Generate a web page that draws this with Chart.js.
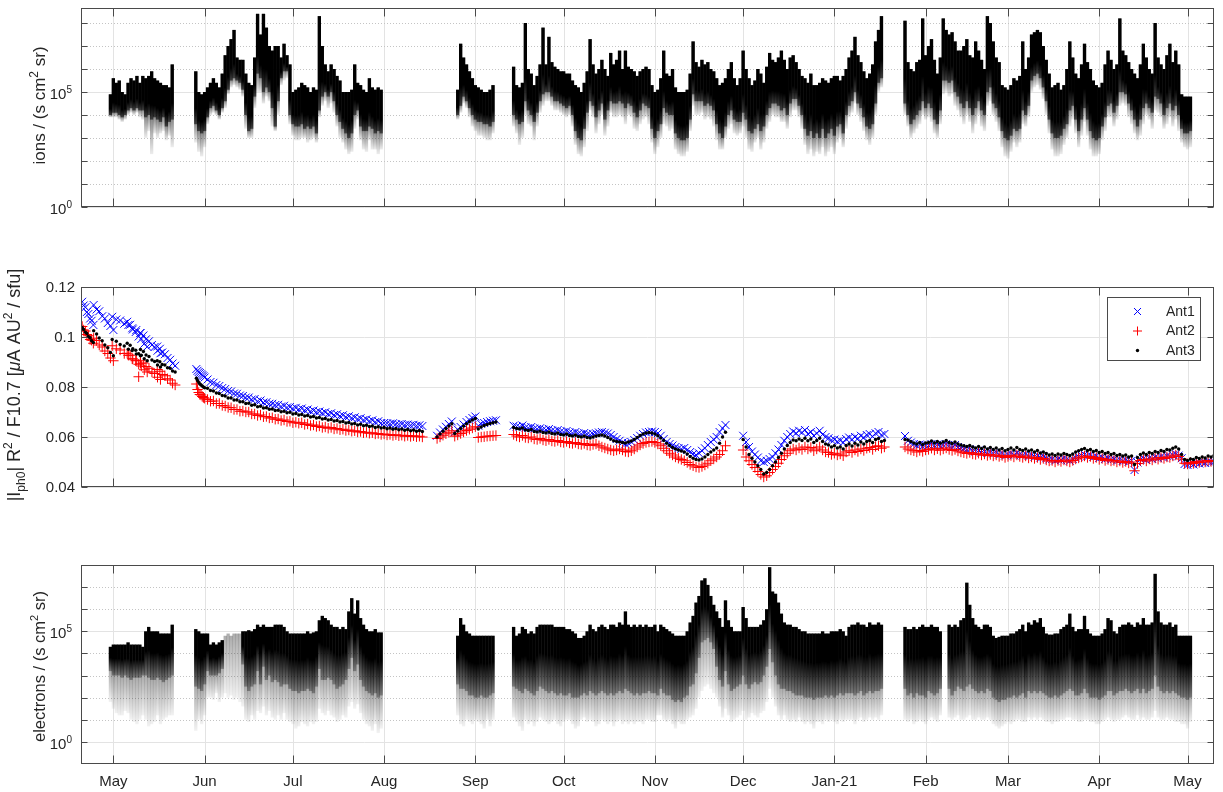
<!DOCTYPE html>
<html><head><meta charset="utf-8">
<script src="https://cdn.jsdelivr.net/npm/chart.js@4.4.1/dist/chart.umd.min.js"></script>
<style>
html,body{margin:0;padding:0;background:#fff;width:1223px;height:792px;overflow:hidden}
canvas{position:absolute;left:0}
</style></head>
<body>
<canvas id="c1" width="1223" height="215" style="top:0px"></canvas>
<canvas id="c2" width="1223" height="230" style="top:270px"></canvas>
<canvas id="c3" width="1223" height="247" style="top:545px"></canvas>
<script>
// ---------- x axis: days since 1 May 2020 ----------
const monthTickDays = [0,31,61,92,123,153,184,214,245,276,304,335,365];
const monthTickLabels = ['May','Jun','Jul','Aug','Sep','Oct','Nov','Dec','Jan-21','Feb','Mar','Apr','May'];

// ---------- ions: daily envelopes, log10 values, segments start at given day ----------
const ionSegStart = [-1, 28, 117, 136, 269];
const ionTopLog = [
 [4.9,5.6,5.4,5.5,5.0,4.9,5.4,5.6,5.5,5.7,5.4,5.7,5.6,5.7,5.9,5.6,5.5,5.4,5.3,5.3,5.2,6.2],
 [5.9,5.0,4.9,5.0,5.2,5.4,5.6,5.4,5.2,5.8, 6.6,7.0,7.3,7.7,6.5,6.4,6.4,5.8,5.4,5.3, 6.5,8.4,7.5,8.4,7.8,7.0,6.8,7.0,7.0,6.5, 7.1,6.6,6.2,5.0,5.1,5.2,5.4,5.3,5.2,5.0, 5.2,5.1,8.3,7.0,6.2,5.9,6.2,6.0,5.7,5.5, 5.0,5.0,5.0,5.1,6.2,5.4,5.3,5.1,5.0,5.6, 5.2,5.1,5.2,5.1],
 [5.1,7.1,6.5,6.2,5.9,5.6,5.3,5.2,5.1,5.0,5.0,5.1,5.3],
 [6.1,5.3,5.2,5.4,8.0,6.0,5.8,5.3,5.7,6.2, 7.8,6.2,7.4,6.3,6.1,6.0,5.9,5.9,5.8,5.8, 5.5,5.3,5.2,5.0,5.4,5.9,7.3,6.2,5.8,6.0, 6.4,6.0,5.7,6.7,6.2,6.4,6.8,6.0,6.8,6.1, 6.0,5.9,5.7,5.9,6.0,6.1,6.0,5.3,5.0,5.1, 5.6,6.8,5.8,5.7,6.0,5.2,5.0,5.0,5.0,5.1, 5.8,7.2,6.3,6.1,6.4,6.2,6.3,6.0,5.9,5.6, 5.3,5.4,5.6,6.0,6.3,5.6,5.3,5.6,6.8,6.0, 5.6,5.3,5.5,6.0,5.8,5.4,6.1,6.7,6.4,6.3, 6.5,6.8,6.4,6.0,6.5,6.6,6.3,6.0,5.7,5.6, 5.4,5.8,5.3,5.3,5.4,5.6,5.5,5.4,5.6,5.7, 5.7,5.5,5.7,6.0,6.5,6.8,7.4,6.6,6.3,5.9, 5.6,5.8,6.2,7.2,7.7,8.3],
 [8.1,6.3,6.0,5.9,6.3,6.4,8.2,6.6,7.0,7.3, 6.4,5.8,6.5,8.2,7.7,7.5,7.6,7.2,6.8,6.8, 7.0,7.3,6.6,6.5,7.2,6.8,6.4,6.0,8.3,8.0, 7.2,6.5,6.3,5.3,5.2,5.1,5.3,5.6,5.5,5.7, 7.2,6.0,6.5,7.5,7.6,7.7,7.6,7.0,6.4,5.8, 5.2,5.3,5.4,5.1,5.3,6.0,7.2,6.5,5.8,5.6, 6.2,7.1,6.3,6.0,5.5,5.3,5.2,5.4,6.2,6.8, 6.4,6.0,6.2,8.2,6.8,6.6,6.3,6.0,5.8,5.6, 6.2,7.1,6.5,6.0,5.8,8.0,6.5,6.2,6.0,6.6, 7.1,6.3,6.8,6.2,4.9,4.8,4.8,4.8]
];
const ionCoreLog = [
 [4.0,4.1,4.1,4.0,3.9,4.0,4.2,4.3,4.2,4.3,4.2,4.2,3.9,4.0,3.8,3.9,3.8,3.7,3.9,3.5,3.7,3.8],
 [3.6,3.3,3.2,3.3,3.9,4.3,4.4,4.2,4.0,4.3, 4.6,5.1,5.5,5.6,5.5,5.4,5.1,4.0,3.3,3.4, 4.8,5.8,5.6,5.0,5.2,5.0,4.3,3.5,4.6,5.6, 5.9,5.9,4.0,3.6,3.5,3.5,3.6,3.4,3.5,3.4, 3.5,3.2,4.2,4.8,5.0,4.8,5.0,4.6,4.0,3.7, 3.4,3.2,3.0,3.2,4.0,4.2,3.5,3.3,3.3,3.5, 3.4,3.2,3.3,3.2],
 [4.0,4.4,4.8,4.6,4.3,4.0,3.8,3.7,3.7,3.6,3.6,3.5,3.7],
 [4.0,3.8,3.6,3.7,4.6,4.2,4.0,3.7,4.1,4.6, 4.9,5.0,5.0,4.8,4.6,4.6,4.5,4.4,4.3,4.4, 4.0,3.3,3.0,2.9,3.4,4.1,4.6,4.4,3.9,4.2, 4.5,3.8,4.2,4.6,4.5,4.5,4.6,4.5,4.3,4.5, 4.4,4.1,3.9,4.2,4.5,4.4,4.3,3.4,3.0,3.3, 3.6,4.3,4.1,4.0,4.0,3.2,3.0,2.9,2.9,3.0, 3.8,4.9,4.6,4.6,4.6,4.4,4.5,4.4,4.2,3.6, 3.2,3.0,3.5,4.0,4.2,3.8,3.7,3.7,4.1,3.8, 3.3,3.2,3.4,3.6,3.3,3.5,4.0,4.3,4.5,4.5, 4.4,4.2,4.3,4.0,4.5,4.7,4.7,4.4,4.0,3.4, 3.1,3.3,3.0,3.2,3.0,3.4,3.0,3.2,3.4,3.1, 3.5,3.6,3.2,4.0,4.4,4.6,5.0,4.5,4.3,3.9, 3.5,3.4,3.6,4.5,5.4,5.6],
 [4.5,4.0,3.6,3.8,4.0,4.2,4.6,4.3,4.5,4.3, 3.8,3.6,4.2,5.5,5.5,5.4,5.5,5.0,4.8,4.5, 4.3,4.6,4.3,4.0,4.3,4.6,4.2,4.0,5.0,5.2, 4.5,4.3,3.9,3.3,3.0,2.9,3.1,3.4,3.3,3.4, 4.2,4.0,4.4,5.5,5.7,5.8,5.6,5.2,4.6,3.8, 3.2,3.0,3.0,3.1,3.4,3.6,4.2,4.4,3.8,3.3, 3.8,4.3,3.8,3.3,3.0,2.9,3.0,3.5,3.9,4.4, 4.5,4.1,4.4,5.0,5.0,4.9,4.5,4.2,3.8,3.5, 3.8,4.3,4.5,4.3,4.1,4.8,4.7,4.5,4.0,4.3, 4.5,4.2,4.4,4.0,3.4,3.2,3.2,3.3]
];
const ionLowLog = [
 [3.9,3.9,3.9,3.8,3.7,3.8,4.0,4.1,4.0,4.1,3.9,3.8,3.0,3.3,2.3,3.2,3.0,3.2,3.3,2.9,3.1,2.6],
 [2.8,2.4,2.2,2.6,3.6,4.0,4.1,4.0,3.8,4.1, 4.3,4.9,5.2,5.3,5.2,5.1,4.8,3.4,3.0,3.0, 4.3,5.0,5.0,4.5,4.8,4.6,3.5,3.3,4.0,5.3, 5.5,5.6,3.6,3.1,2.9,2.9,3.0,3.0,2.8,2.9, 3.0,2.8,3.9,4.4,4.6,4.3,4.5,4.1,3.5,3.0, 2.8,2.5,2.3,2.4,3.4,3.8,2.9,2.5,2.4,2.9, 2.5,2.5,2.3,2.5],
 [3.8,4.1,4.5,4.3,3.9,3.5,3.3,3.1,3.1,3.0,2.9,2.9,3.2],
 [3.5,3.2,2.7,3.0,4.0,3.6,3.5,2.9,3.5,4.1, 4.4,4.6,4.6,4.4,4.2,4.2,4.1,4.0,3.9,4.0, 3.5,2.7,2.3,2.2,2.6,3.3,4.2,3.9,3.2,3.6, 4.0,3.1,3.5,4.1,3.9,3.9,4.0,3.9,3.6,4.0, 3.9,3.4,3.3,3.6,3.8,3.9,3.6,2.8,2.3,2.6, 3.0,3.6,3.5,3.3,3.4,2.5,2.3,2.2,2.2,2.4, 3.3,4.4,4.0,4.0,4.1,3.8,3.9,3.8,3.5,2.9, 2.5,2.5,3.0,3.4,3.6,3.2,3.1,3.2,3.5,3.0, 2.5,2.4,2.8,3.0,2.5,2.8,3.4,3.7,4.0,3.9, 3.9,3.7,3.7,3.4,3.9,4.2,4.2,3.9,3.4,2.7, 2.3,2.5,2.2,2.4,2.3,2.6,2.2,2.4,2.6,2.3, 2.8,3.0,2.6,3.4,3.9,4.1,4.5,4.0,3.7,3.3, 2.9,2.7,3.0,4.0,5.0,5.2],
 [4.0,3.5,3.0,3.2,3.4,3.6,4.0,3.8,3.9,3.7, 3.2,3.0,3.6,4.9,5.0,4.8,4.9,4.4,4.2,3.9, 3.6,4.0,3.7,3.2,3.6,4.0,3.5,3.3,4.4,4.6, 4.0,3.7,3.3,2.6,2.2,2.1,2.4,2.8,2.6,2.8, 3.6,3.5,3.9,5.0,5.2,5.3,5.1,4.7,4.0,3.2, 2.5,2.2,2.2,2.3,2.7,3.0,3.5,3.8,3.2,2.6, 3.1,3.7,3.1,2.5,2.2,2.2,2.3,2.9,3.3,3.9, 3.9,3.5,3.8,4.4,4.5,4.4,3.9,3.6,3.2,2.9, 3.1,3.6,4.0,3.8,3.4,4.2,4.1,3.9,3.4,3.6, 3.9,3.5,3.8,3.3,2.8,2.6,2.5,2.6]
];

// ---------- electrons: daily envelopes, log10 values ----------
const eleSegStart = [-1, 28, 117, 136, 269, 284];
const eleTopLog = [
 [4.3,4.4,4.4,4.4,4.4,4.4,4.5,4.4,4.4,4.4, 4.4,4.3,5.0,5.2,5.0,5.0,5.0,4.9,4.9,4.9, 4.9,5.3],
 [5.1,5.0,4.9,4.9,4.9,4.4,4.5,4.4,4.5,4.6, 4.8,4.9,4.8,4.9,4.9,4.9,5.0,5.0,5.05,5.0, 5.1,5.3,5.2,5.3,5.2,5.2,5.2,5.3,5.3,5.3, 5.2,5.0,4.9,4.9,4.9,4.9,4.9,4.9,5.0,4.9, 4.95,5.0,5.5,5.7,5.6,5.5,5.3,5.2,5.2,5.1, 5.2,5.1,5.9,6.5,5.8,6.4,5.6,5.3,5.1,5.0, 5.0,5.1,4.95,4.95],
 [4.8,5.6,5.3,5.0,4.9,4.8,4.8,4.8,4.8,4.8,4.8,4.8,4.8],
 [5.2,4.8,4.9,5.2,5.1,4.9,5.0,4.9,5.2,5.3, 5.3,5.3,5.3,5.3,5.2,5.2,5.2,5.2,5.1,5.1, 5.0,4.9,4.7,4.7,4.8,5.0,5.3,5.1,5.0,5.2, 5.3,5.2,5.1,5.3,5.3,5.2,5.4,5.3,5.9,5.3, 5.2,5.3,5.2,5.3,5.2,5.3,5.2,5.2,5.3,5.0, 5.3,5.2,5.1,5.0,4.9,4.8,4.8,4.8,4.8,5.0, 5.4,5.7,6.3,6.6,7.3,7.4,7.1,6.6,6.2,5.9, 5.6,5.2,6.4,5.5,5.2,5.0,5.0,5.0,6.1,5.6, 5.2,5.2,5.2,5.2,5.3,5.5,6.0,7.9,6.8,6.7, 6.3,5.8,5.4,5.3,5.3,5.2,5.2,5.1,5.0,5.0, 4.9,4.9,4.9,4.9,4.9,5.0,4.9,4.9,5.0,5.0, 5.0,5.1,5.0,4.8,5.2,5.3,5.3,5.4,5.3,5.3, 5.2,5.4,5.3,5.3,5.4,5.3],
 [5.2,5.1,5.1,5.2,5.1,5.2,5.3,5.2,5.2,5.3,5.2,5.2,5.0],
 [5.3,5.2,5.3,5.2,5.5,5.6,7.2,6.2,5.6,5.3, 5.2,5.1,5.3,5.3,5.2,4.8,4.7,4.75,4.8,4.8, 4.8,4.9,4.9,5.0,5.1,5.3,5.0,5.4,5.3,5.5, 5.4,5.6,5.2,4.9,4.85,4.85,4.9,4.9,5.1,5.2, 5.3,5.8,5.2,5.0,5.1,5.1,5.7,5.1,4.9,4.8, 4.8,4.8,4.9,5.1,5.6,5.5,5.0,4.9,5.2,5.3, 5.3,5.4,5.3,5.2,5.4,5.3,5.6,5.3,5.3,5.4, 7.6,5.9,5.4,5.3,5.3,5.4,5.2,5.3,4.8,4.8, 4.8,4.8,4.8]
];
const eleCoreLog = [
 [3.2,3.0,3.0,3.0,2.9,3.0,2.9,2.8,2.9,2.9, 2.9,3.0,3.0,2.9,2.8,2.8,2.9,2.8,2.7,2.8, 2.9,3.0],
 [2.5,2.4,2.3,2.6,3.2,3.0,3.0,3.0,3.1,3.3, null,null,null,null,null,null,3.5,2.5,2.3,2.5, 2.6,3.2,2.6,3.4,2.8,3.0,2.7,2.8,2.7,2.5, 2.6,2.6,2.4,2.3,2.3,2.2,2.3,2.3,2.4,2.3, 2.2,2.5,3.3,2.8,2.8,2.9,2.8,2.6,2.4,2.5, 2.6,2.8,3.3,3.8,3.2,3.5,2.8,2.5,2.3,2.2, 2.1,2.2,2.0,2.1],
 [2.6,2.4,2.4,2.3,2.1,2.1,2.0,2.0,2.1,2.0,2.0,2.1,2.2],
 [2.5,2.4,2.3,2.2,2.4,2.3,2.2,2.1,2.3,2.5, 2.4,2.3,2.2,2.3,2.2,2.1,2.2,2.1,2.1,2.2, 2.0,2.0,2.0,2.1,2.2,2.1,2.3,2.2,2.1,2.2, 2.3,2.2,2.1,2.2,2.1,2.2,2.3,2.2,2.4,2.3, 2.2,2.1,2.2,2.1,2.2,2.2,2.3,2.2,2.2,2.1, 2.4,2.2,2.1,2.1,1.9,1.8,1.9,1.8,2.0,2.1, 2.5,2.6,3.1,3.8,4.5,4.6,4.7,4.5,4.2,3.4, 2.8,2.5,3.2,2.6,2.3,2.4,2.5,2.6,3.0,2.6, 2.4,2.6,2.7,2.6,2.7,3.0,3.4,4.2,3.6,3.0, 2.6,2.4,2.4,2.3,2.3,2.2,2.1,2.1,2.1,2.0, 2.0,2.0,1.9,2.0,2.0,2.0,2.1,2.0,2.1,2.0, 2.1,2.2,2.1,2.2,2.2,2.2,2.1,2.2,2.3,2.1, 2.2,2.3,2.2,2.3,2.3,2.4],
 [2.4,2.1,2.2,2.0,2.2,2.1,2.1,2.0,2.3,2.2,2.1,2.2,2.4],
 [2.4,2.1,2.3,2.5,2.4,2.3,2.5,2.6,2.4,2.3, 2.2,2.3,2.2,2.4,2.3,2.0,1.9,1.8,1.9,1.9, 2.0,2.0,2.1,2.0,2.1,2.2,2.0,2.3,2.2,2.3, 2.2,2.3,2.2,2.1,2.0,2.0,2.1,2.0,2.1,2.2, 2.3,2.4,2.3,2.1,2.1,2.2,2.4,2.2,2.0,2.0, 2.0,1.9,2.0,2.1,2.3,2.3,2.1,2.2,2.3,2.3, 2.4,2.3,2.2,2.3,2.4,2.2,2.4,2.2,2.3,2.4, 3.0,2.5,2.3,2.2,2.3,2.2,2.3,2.2,2.1,2.0, 2.0,1.9,2.0]
];
const eleLowLog = [
 [1.8,1.5,1.3,1.2,1.2,1.4,1.3,1.0,0.9,0.8, 1.0,1.2,1.0,0.7,0.8,0.9,1.2,0.8,1.0,1.1, 1.2,1.2],
 [0.5,1.0,0.8,1.2,2.0,2.0,1.9,2.2,1.8,2.0, 2.2,2.0,2.1,1.9,2.0,1.8,1.6,1.0,0.9,1.2, 1.0,1.4,1.3,1.6,1.2,1.4,1.1,1.0,1.2,1.0, 1.3,1.0,0.9,0.8,0.6,0.7,0.9,0.8,0.7,0.9, 0.8,0.9,1.5,1.3,1.2,1.4,1.2,1.1,0.9,1.0, 1.2,1.1,1.6,1.8,1.5,1.7,1.3,1.0,0.8,0.7, 0.5,0.8,0.4,0.6],
 [1.2,0.8,0.7,1.0,0.9,0.8,1.0,0.9,0.8,0.6,1.0,0.7,1.0],
 [1.1,0.9,0.7,0.5,1.0,0.8,0.9,0.7,0.9,1.1, 1.0,0.9,0.8,0.9,1.0,0.8,0.7,0.9,1.0,1.0, 0.8,0.6,0.7,1.0,1.1,0.9,1.0,0.9,0.7,0.8, 1.0,0.9,0.8,0.9,0.7,0.9,1.0,0.8,0.9,0.8, 0.9,0.8,0.9,0.9,0.8,1.0,1.0,0.9,0.9,1.2, 1.2,1.0,0.9,1.0,0.8,0.6,0.9,0.8,0.8,1.0, 1.1,1.2,1.5,2.0,2.3,2.5,2.6,2.4,2.2,2.0, 1.6,1.1,1.5,1.2,0.9,1.0,1.1,1.2,1.4,1.0, 1.1,1.3,1.2,1.1,1.3,1.4,1.8,2.4,2.0,1.6, 1.2,1.0,1.2,1.0,0.9,1.0,0.9,1.1,0.9,0.8, 0.9,0.8,0.6,0.9,0.9,0.8,1.0,0.9,1.0,0.9, 0.8,1.0,0.9,1.0,1.0,1.0,0.8,1.0,1.1,0.9, 1.0,1.1,1.0,1.1,1.0,1.2],
 [1.0,0.9,1.0,0.8,0.9,1.0,0.9,0.8,1.0,1.1,1.0,0.9,1.2],
 [1.1,1.0,1.1,1.2,1.0,1.0,1.1,1.2,1.0,1.0, 1.1,1.0,1.0,1.1,1.0,0.8,0.7,0.6,0.7,0.8, 0.9,0.8,0.9,1.0,1.0,0.9,0.9,1.1,1.0,1.1, 1.0,1.1,1.0,0.9,0.9,0.8,0.9,0.9,1.0,1.0, 1.1,1.1,1.0,1.0,0.9,0.9,1.0,1.0,0.9,0.9, 0.8,0.8,0.9,1.0,1.1,1.0,0.9,1.0,1.0,1.1, 1.2,1.1,1.0,1.0,1.2,1.0,1.1,1.0,1.0,1.1, 1.4,1.1,1.0,1.0,1.1,1.0,1.0,0.9,0.9,0.8, 0.8,0.6,0.9]
];

// ---------- |Iph0| R^2 / F10.7 : irregular early samples ----------
const phEarlyDays = [-10.6,-10.1,-9.5,-9.0,-8.5,-7.9,-7.4,-6.8, -6.7,-5.7,-4.8,-3.8,-2.9,-1.9,-1.0,0.0, -0.4,1.0,2.3,3.7,5.1,6.4,7.8,9.2, 4.7,5.7,6.6,7.6,8.6,9.5,10.5,11.5, 9.2,10.2,11.1,12.1,13.1,14.0,15.0,16.0, 14.9,15.8,16.6,17.5,18.4,19.3,20.1,21.0, 8.6, 28.2,28.6,29.0,29.4,29.8,30.2,30.6,31.0];
const ant1Early = [.1141,.1126,.1119,.1100,.1092,.1074,.1065,.1048, .1128,.1110,.1103,.1083,.1074,.1056,.1044,.1028, .1081,.1070,.1066,.1053,.1048,.1035,.1028,.1016, .1061,.1049,.1030,.1020,.1002,.0992,.0973,.0961, .1016,.1006,.0991,.0983,.0968,.0960,.0945,.0935, .0962,.0953,.0938,.0931,.0916,.0909,.0894,.0885, null, .0872,.0865,.0860,.0856,.0851,.0847,.0843,.0838];
const ant2Early = [.1042,.1028,.1024,.1010,.1005,.0990,.0987,.0975, .0995,.0986,.0968,.0960,.0944,.0934,.0916,.0905, .0965,.0953,.0948,.0934,.0927,.0913,.0907,.0895, .0935,.0927,.0912,.0905,.0891,.0884,.0869,.0860, .0905,.0896,.0882,.0875,.0860,.0854,.0839,.0830, .0870,.0863,.0850,.0845,.0833,.0828,.0815,.0808, .0841, .0812,.0790,.0778,.0770,.0768,.0762,.0758,.0755];
const ant3Early = [.1038,.1030,.1019,.1014,.1002,.0997,.0985,.0978, .1025,.1012,.0996,.0985,.0968,.0957,.0938,.0925, .0990,.0983,.0970,.0964,.0951,.0946,.0932,.0925, .0975,.0967,.0953,.0947,.0933,.0927,.0913,.0905, .0950,.0942,.0928,.0922,.0908,.0902,.0888,.0880, .0905,.0901,.0890,.0888,.0877,.0875,.0864,.0860, null, .0835,.0826,.0818,.0812,.0808,.0804,.0800,.0797];

// ---------- |Iph0| R^2 / F10.7 : daily samples, segments start at given day ----------
const phSegStart = [32, 110, 136, 214, 269];
const ant1Daily = [
 [.0830,.0820,.0817,.0808,.0804,.0796,.0792,.0784,.0782,.0774, .0773,.0766,.0764,.0758,.0758,.0750,.0752,.0743,.0746,.0738, .0739,.0733,.0733,.0728,.0729,.0722,.0725,.0718,.0720,.0714, .0717,.0711,.0714,.0707,.0710,.0703,.0706,.0700,.0702,.0696, .0699,.0692,.0695,.0688,.0691,.0684,.0687,.0680,.0683,.0676, .0679,.0672,.0675,.0668,.0671,.0664,.0667,.0660,.0663,.0656, .0656,.0655,.0653,.0655,.0651,.0650,.0652,.0648,.0650,.0647, .0649,.0645,.0647,.0644],
 [.0605,.0618,.0630,.0641,.0652,.0662, .0620,.0630,.0640,.0650,.0660,.0668,.0676,.0682, .0645,.0652,.0656,.0660,.0663,.0665,.0667],
 [.0645,.0642,.0640,.0646,.0638,.0636,.0640,.0634,.0632,.0635, .0630,.0628,.0632,.0626,.0624,.0628,.0622,.0620,.0624,.0618, .0616,.0620,.0614,.0612,.0616,.0611,.0609,.0612,.0615,.0618, .0620,.0617,.0614,.0608,.0600,.0592,.0585,.0578,.0572,.0575, .0580,.0588,.0596,.0605,.0612,.0618,.0620,.0622,.0620,.0615, .0605,.0592,.0580,.0572,.0566,.0560,.0555,.0552,.0556,.0548, .0540,.0532,.0528,.0535,.0545,.0555,.0568,.0580,.0590,.0600, .0620,.0635,.0648],
 [.0605,.0580,.0560,.0542,.0530,.0518,.0505,.0500,.0505,.0512, .0520,.0535,.0550,.0568,.0585,.0600,.0612,.0622,.0615,.0625, .0618,.0628,.0612,.0620,.0605,.0615,.0625,.0610,.0600,.0595, .0588,.0590,.0582,.0586,.0578,.0592,.0598,.0590,.0600,.0594, .0605,.0598,.0608,.0612,.0602,.0615,.0620,.0608,.0612],
 [.0604,.0585,.0578,.0572,.0566,.0570,.0562,.0568,.0566,.0572, .0565,.0570,.0563,.0568,.0572,.0566,.0562,.0568,.0560,.0556, .0552,.0548,.0552,.0545,.0542,.0546,.0538,.0542,.0536,.0540, .0534,.0538,.0530,.0534,.0526,.0530,.0534,.0528,.0536,.0530, .0526,.0532,.0524,.0528,.0522,.0526,.0518,.0522,.0515,.0510, .0512,.0506,.0512,.0508,.0514,.0510,.0505,.0512,.0518,.0522, .0526,.0530,.0524,.0528,.0520,.0524,.0516,.0520,.0512,.0516, .0510,.0512,.0506,.0510,.0504,.0508,.0502,.0505,.0468,.0498, .0510,.0514,.0508,.0516,.0512,.0520,.0515,.0522,.0518,.0525, .0522,.0528,.0532,.0526,.0515,.0492,.0488,.0495,.0490,.0498, .0494,.0500,.0496,.0503,.0498,.0502]
];
const ant2Daily = [
 [.0750,.0743,.0744,.0734,.0734,.0726,.0724,.0718,.0717,.0710, .0710,.0703,.0704,.0700,.0700,.0692,.0692,.0686,.0688,.0681, .0682,.0676,.0677,.0671,.0672,.0666,.0668,.0662,.0663,.0657, .0659,.0655,.0657,.0650,.0652,.0646,.0648,.0642,.0644,.0638, .0640,.0635,.0638,.0632,.0634,.0629,.0631,.0626,.0628,.0623, .0625,.0620,.0622,.0617,.0619,.0615,.0617,.0612,.0614,.0610, .0612,.0608,.0610,.0606,.0609,.0605,.0607,.0603,.0606,.0602, .0605,.0601,.0603,.0600],
 [.0594,.0600,.0607,.0613,.0619,.0625, .0603,.0608,.0614,.0620,.0626,.0631,.0636,.0641, .0598,.0600,.0601,.0603,.0604,.0605,.0606],
 [.0610,.0604,.0600,.0606,.0598,.0596,.0600,.0592,.0590,.0594, .0588,.0585,.0590,.0584,.0582,.0586,.0580,.0578,.0582,.0576, .0574,.0578,.0572,.0570,.0574,.0568,.0566,.0570,.0572,.0565, .0560,.0556,.0552,.0548,.0545,.0548,.0552,.0548,.0542,.0540, .0545,.0552,.0560,.0568,.0574,.0578,.0580,.0582,.0578,.0572, .0565,.0555,.0545,.0535,.0528,.0520,.0515,.0510,.0505,.0498, .0490,.0485,.0480,.0478,.0482,.0488,.0495,.0505,.0512,.0520, .0530,.0545,.0565],
 [.0548,.0520,.0505,.0490,.0478,.0462,.0450,.0440,.0445,.0458, .0470,.0482,.0495,.0510,.0525,.0535,.0545,.0552,.0548,.0556, .0550,.0560,.0552,.0558,.0545,.0552,.0560,.0548,.0540,.0538, .0530,.0535,.0528,.0532,.0525,.0540,.0545,.0538,.0548,.0542, .0552,.0546,.0555,.0558,.0550,.0562,.0565,.0555,.0560],
 [.0560,.0552,.0548,.0545,.0540,.0546,.0542,.0548,.0550,.0555, .0548,.0553,.0547,.0552,.0556,.0550,.0546,.0550,.0544,.0540, .0537,.0534,.0538,.0532,.0530,.0535,.0528,.0532,.0526,.0530, .0524,.0528,.0522,.0526,.0518,.0522,.0526,.0520,.0528,.0522, .0518,.0524,.0516,.0520,.0514,.0518,.0510,.0514,.0508,.0504, .0506,.0500,.0506,.0502,.0508,.0504,.0500,.0506,.0512,.0516, .0520,.0524,.0518,.0522,.0514,.0518,.0510,.0514,.0506,.0510, .0504,.0506,.0500,.0504,.0498,.0502,.0496,.0500,.0465,.0494, .0506,.0510,.0504,.0512,.0508,.0516,.0511,.0518,.0514,.0520, .0518,.0524,.0528,.0522,.0512,.0495,.0492,.0498,.0494,.0502, .0498,.0504,.0500,.0506,.0502,.0506]
];
const ant3Daily = [
 [.0795,.0786,.0784,.0776,.0774,.0766,.0764,.0756,.0756,.0748, .0748,.0741,.0741,.0734,.0735,.0727,.0729,.0721,.0723,.0716, .0717,.0711,.0712,.0706,.0707,.0701,.0703,.0697,.0699,.0692, .0694,.0688,.0690,.0684,.0686,.0680,.0682,.0676,.0678,.0672, .0674,.0668,.0670,.0664,.0666,.0660,.0662,.0656,.0658,.0652, .0654,.0648,.0651,.0645,.0647,.0642,.0644,.0638,.0641,.0636, .0638,.0633,.0636,.0631,.0634,.0629,.0632,.0627,.0630,.0625, .0628,.0623,.0626,.0622],
 [.0600,.0612,.0623,.0634,.0644,.0653, .0614,.0624,.0634,.0644,.0653,.0661,.0668,.0674, .0632,.0640,.0646,.0650,.0654,.0657,.0660],
 [.0638,.0634,.0632,.0636,.0628,.0626,.0630,.0622,.0620,.0624, .0618,.0616,.0620,.0614,.0612,.0616,.0610,.0608,.0612,.0606, .0604,.0608,.0602,.0600,.0604,.0598,.0596,.0600,.0604,.0606, .0608,.0604,.0598,.0592,.0585,.0582,.0580,.0578,.0576,.0580, .0584,.0590,.0598,.0606,.0612,.0616,.0618,.0616,.0612,.0605, .0596,.0586,.0575,.0566,.0558,.0552,.0548,.0544,.0540,.0532, .0522,.0515,.0510,.0508,.0512,.0520,.0530,.0540,.0548,.0556, .0575,.0600,.0619],
 [.0590,.0560,.0530,.0515,.0500,.0485,.0470,.0452,.0458,.0470, .0485,.0500,.0518,.0535,.0552,.0566,.0578,.0588,.0585,.0592, .0586,.0595,.0585,.0592,.0578,.0586,.0595,.0582,.0572,.0568, .0560,.0565,.0556,.0560,.0552,.0566,.0572,.0564,.0575,.0568, .0580,.0572,.0582,.0586,.0578,.0590,.0594,.0582,.0586],
 [.0590,.0588,.0582,.0576,.0572,.0578,.0570,.0576,.0578,.0584, .0576,.0582,.0575,.0580,.0586,.0578,.0574,.0580,.0572,.0568, .0565,.0562,.0566,.0560,.0556,.0562,.0554,.0560,.0552,.0558, .0550,.0556,.0548,.0554,.0545,.0550,.0556,.0548,.0558,.0550, .0546,.0552,.0544,.0548,.0540,.0546,.0536,.0540,.0534,.0528, .0532,.0526,.0532,.0528,.0534,.0530,.0526,.0532,.0540,.0545, .0550,.0554,.0546,.0550,.0542,.0546,.0538,.0542,.0534,.0538, .0530,.0534,.0526,.0530,.0524,.0528,.0520,.0524,.0490,.0518, .0530,.0536,.0530,.0538,.0534,.0542,.0538,.0546,.0542,.0550, .0548,.0555,.0560,.0552,.0530,.0510,.0506,.0512,.0510,.0518, .0514,.0520,.0516,.0524,.0520,.0526]
];
const phTickValues = [0.04,0.06,0.08,0.1,0.12];
const phTickLabels = ['0.04','0.06','0.08','0.1','0.12'];
const antNames = ['Ant1','Ant2','Ant3'];

// ---------- helpers ----------
const FONT = "'Liberation Sans', Arial, Helvetica, sans-serif";
const INK = '#262626', BOX = '#4a4a4a';
const X_MIN = -11, X_MAX = 374;

function buildBars(starts, top, core, low) {
  const tail = [], dense = [];
  starts.forEach((s, k) => {
    top[k].forEach((t, i) => {
      if (t === null) return;
      const day = s + i, c = core[k][i];
      tail.push({x: day, y: [10 ** low[k][i], 10 ** t], c: 10 ** (c === null ? t : c)});
      if (c !== null) dense.push({x: day, y: [10 ** c, 10 ** t]});
    });
  });
  return {tail, dense};
}
function buildPoints(earlyVals, dailyVals) {
  const pts = [];
  phEarlyDays.forEach((d, i) => { if (earlyVals[i] !== null) pts.push({x: d, y: earlyVals[i]}); });
  phSegStart.forEach((s, k) => dailyVals[k].forEach((v, i) => { if (v !== null) pts.push({x: s + i, y: v}); }));
  return pts;
}
function denseFill(solidFrac, bottomAlpha) {
  return (c) => {
    const r = c.raw, ys = c.chart.scales.y;
    if (!r || !ys || !Array.isArray(r.y)) return '#000';
    const yT = ys.getPixelForValue(r.y[1]), yB = ys.getPixelForValue(r.y[0]);
    if (!isFinite(yT) || !isFinite(yB) || yB - yT < 2) return '#000';
    const g = c.chart.ctx.createLinearGradient(0, yT, 0, yB);
    g.addColorStop(0, '#000'); g.addColorStop(solidFrac, '#000');
    g.addColorStop(1, 'rgba(0,0,0,' + bottomAlpha + ')');
    return g;
  };
}
function tailFill(a0, a1) {
  return (c) => {
    const r = c.raw, ys = c.chart.scales.y;
    if (!r || !ys || !Array.isArray(r.y)) return 'rgba(0,0,0,' + a0 + ')';
    const y0 = ys.getPixelForValue(r.c), y1 = ys.getPixelForValue(r.y[0]);
    if (!isFinite(y0) || !isFinite(y1) || y1 - y0 < 1) return 'rgba(0,0,0,' + a0 + ')';
    const g = c.chart.ctx.createLinearGradient(0, y0, 0, y1);
    g.addColorStop(0, 'rgba(0,0,0,' + a0 + ')'); g.addColorStop(1, 'rgba(0,0,0,' + a1 + ')');
    return g;
  };
}
function fontFor(p, size) {
  const s = (p.sup || p.sub) ? Math.round(size * 0.68) : size;
  return (p.it ? 'italic ' : '') + s + 'px ' + FONT;
}
function drawRich(ctx, parts, x, y, size, align) {
  let total = 0;
  parts.forEach(p => { ctx.font = fontFor(p, size); total += ctx.measureText(p.t).width; });
  let cx = align === 'center' ? x - total / 2 : align === 'right' ? x - total : x;
  ctx.textAlign = 'left'; ctx.textBaseline = 'alphabetic';
  parts.forEach(p => {
    ctx.font = fontFor(p, size);
    const dy = p.sup ? -0.42 * size : p.sub ? 0.25 * size : 0;
    ctx.fillText(p.t, cx, y + dy);
    cx += ctx.measureText(p.t).width;
  });
}
function seg(ctx, x0, y0, x1, y1) { ctx.beginPath(); ctx.moveTo(x0, y0); ctx.lineTo(x1, y1); ctx.stroke(); }

function axesPlugin(cfg) {
  return {
    id: 'matlabAxes',
    beforeDatasetsDraw(chart) {
      const {ctx, chartArea: a, scales: {x, y}} = chart;
      ctx.save(); ctx.lineWidth = 1;
      ctx.strokeStyle = '#e3e3e3';
      monthTickDays.forEach(d => { const px = Math.round(x.getPixelForValue(d)) + 0.5; seg(ctx, px, a.top, px, a.bottom); });
      cfg.yGrid.forEach(g => {
        const py = Math.round(y.getPixelForValue(g.v)) + 0.5;
        if (g.minor) { ctx.setLineDash([1, 2]); ctx.strokeStyle = '#c4c4c4'; }
        else { ctx.setLineDash([]); ctx.strokeStyle = '#e3e3e3'; }
        seg(ctx, a.left, py, a.right, py);
      });
      ctx.restore();
    },
    afterDatasetsDraw(chart) {
      const {ctx, chartArea: a, scales: {x, y}} = chart;
      ctx.save();
      ctx.lineWidth = 1; ctx.strokeStyle = BOX; ctx.setLineDash([]);
      const L = Math.round(a.left) + 0.5, R = Math.round(a.right) - 0.5, T = Math.round(a.top) + 0.5, B = Math.round(a.bottom) - 0.5;
      ctx.strokeRect(L, T, R - L, B - T);
      monthTickDays.forEach(d => {
        const px = Math.round(x.getPixelForValue(d)) + 0.5;
        seg(ctx, px, B, px, B - 8); seg(ctx, px, T, px, T + 8);
      });
      cfg.yGrid.forEach(g => {
        const py = Math.round(y.getPixelForValue(g.v)) + 0.5;
        seg(ctx, L, py, L + 6, py); seg(ctx, R, py, R - 6, py);
      });
      ctx.fillStyle = INK;
      cfg.yLabels.forEach(l => drawRich(ctx, l.parts, cfg.labelRight, y.getPixelForValue(l.v) + cfg.labelDy, 15, 'right'));
      if (cfg.xLabels) {
        ctx.font = '15px ' + FONT; ctx.textAlign = 'center'; ctx.textBaseline = 'alphabetic';
        monthTickDays.forEach((d, i) => ctx.fillText(monthTickLabels[i], x.getPixelForValue(d), cfg.xLabelY));
      }
      ctx.save();
      ctx.translate(cfg.titleX, (a.top + a.bottom) / 2 + (cfg.titleDy || 0));
      ctx.rotate(-Math.PI / 2);
      drawRich(ctx, cfg.title, 0, 0, cfg.titleSize, 'center');
      ctx.restore();
      if (cfg.legend) cfg.legend(ctx);
      ctx.restore();
    }
  };
}
function barDataset(data, fill, order) {
  return {data, backgroundColor: fill, borderWidth: 0, grouped: false, barThickness: 3.3, order, inflateAmount: 0};
}
function baseOptions(pad, yScale) {
  return {
    responsive: false, animation: false, events: [], devicePixelRatio: 1,
    layout: {padding: pad},
    plugins: {legend: {display: false}, tooltip: {enabled: false}},
    scales: {
      x: {type: 'linear', min: X_MIN, max: X_MAX, offset: false, display: false, grid: {offset: false}},
      y: Object.assign({display: false}, yScale)
    }
  };
}
function decadeGrid(labeled) {
  const g = [];
  for (let e = 0; e <= 8; e++) g.push({v: 10 ** e, minor: !labeled.includes(e)});
  return g;
}
const pow10Label = (e) => ({v: 10 ** e, parts: [{t: '10'}, {t: String(e), sup: true}]});

// ---------- panel 1: ions ----------
const ions = buildBars(ionSegStart, ionTopLog, ionCoreLog, ionLowLog);
new Chart(document.getElementById('c1'), {
  type: 'bar',
  data: {datasets: [barDataset(ions.tail, tailFill(0.45, 0.07), 2), barDataset(ions.dense, denseFill(0.7, 0.55), 1)]},
  options: baseOptions({left: 81, right: 9, top: 8, bottom: 8}, {type: 'logarithmic', min: 1, max: 4.5e8}),
  plugins: [axesPlugin({
    yGrid: decadeGrid([0, 5]), yLabels: [pow10Label(0), pow10Label(5)], labelRight: 72, labelDy: 7,
    title: [{t: 'ions / (s cm'}, {t: '2', sup: true}, {t: ' sr)'}], titleX: 45, titleSize: 17, titleDy: -2
  })]
});

// ---------- panel 2: photo-emission ----------
const legendDraw = (ctx) => {
  const bx = 1107.5, by = 297.5 - 270, bw = 93, bh = 63;
  ctx.fillStyle = '#fff'; ctx.fillRect(bx, by, bw, bh);
  ctx.strokeStyle = BOX; ctx.lineWidth = 1; ctx.strokeRect(bx, by, bw, bh);
  const rows = [by + 14, by + 33.5, by + 53];
  const mx = 1137.5;
  ctx.strokeStyle = '#0000ff'; seg(ctx, mx - 3.5, rows[0] - 3.5, mx + 3.5, rows[0] + 3.5); seg(ctx, mx - 3.5, rows[0] + 3.5, mx + 3.5, rows[0] - 3.5);
  ctx.strokeStyle = '#ff0000'; seg(ctx, mx - 4.5, rows[1], mx + 4.5, rows[1]); seg(ctx, mx, rows[1] - 4.5, mx, rows[1] + 4.5);
  ctx.fillStyle = '#000'; ctx.beginPath(); ctx.arc(mx, rows[2], 1.7, 0, Math.PI * 2); ctx.fill();
  ctx.fillStyle = INK; ctx.font = '14px ' + FONT; ctx.textAlign = 'left'; ctx.textBaseline = 'middle';
  antNames.forEach((n, i) => ctx.fillText(n, 1166, rows[i] + 0.5));
};
new Chart(document.getElementById('c2'), {
  type: 'scatter',
  data: {datasets: [
    {label: antNames[0], data: buildPoints(ant1Early, ant1Daily), pointStyle: 'crossRot', radius: 5.6, borderColor: '#0000ff', backgroundColor: '#0000ff', borderWidth: 1, order: 3},
    {label: antNames[1], data: buildPoints(ant2Early, ant2Daily), pointStyle: 'cross', radius: 5.2, borderColor: '#ff0000', backgroundColor: '#ff0000', borderWidth: 1, order: 2},
    {label: antNames[2], data: buildPoints(ant3Early, ant3Daily), pointStyle: 'circle', radius: 1.7, borderWidth: 0, backgroundColor: '#000000', order: 1}
  ]},
  options: baseOptions({left: 81, right: 9, top: 17, bottom: 13}, {type: 'linear', min: 0.04, max: 0.12}),
  plugins: [axesPlugin({
    yGrid: phTickValues.map(v => ({v, minor: false})),
    yLabels: phTickValues.map((v, i) => ({v, parts: [{t: phTickLabels[i]}]})), labelRight: 75, labelDy: 5,
    title: [{t: '|I'}, {t: 'ph0', sub: true}, {t: '| R'}, {t: '2', sup: true}, {t: ' / F10.7 ['}, {t: 'μ', it: true}, {t: 'A AU'}, {t: '2', sup: true}, {t: ' / sfu]'}],
    titleX: 20, titleSize: 18, titleDy: -2, legend: legendDraw
  })]
});

// ---------- panel 3: electrons ----------
const ele = buildBars(eleSegStart, eleTopLog, eleCoreLog, eleLowLog);
new Chart(document.getElementById('c3'), {
  type: 'bar',
  data: {datasets: [barDataset(ele.tail, tailFill(0.32, 0.05), 2), barDataset(ele.dense, denseFill(0.45, 0.3), 1)]},
  options: baseOptions({left: 81, right: 9, top: 20, bottom: 28}, {type: 'logarithmic', min: 0.1, max: 1e8}),
  plugins: [axesPlugin({
    yGrid: decadeGrid([0, 5]), yLabels: [pow10Label(0), pow10Label(5)], labelRight: 72, labelDy: 7,
    title: [{t: 'electrons / (s cm'}, {t: '2', sup: true}, {t: ' sr)'}], titleX: 45, titleSize: 16.5, titleDy: 2,
    xLabels: true, xLabelY: 786 - 545
  })]
});
</script>
</body></html>
